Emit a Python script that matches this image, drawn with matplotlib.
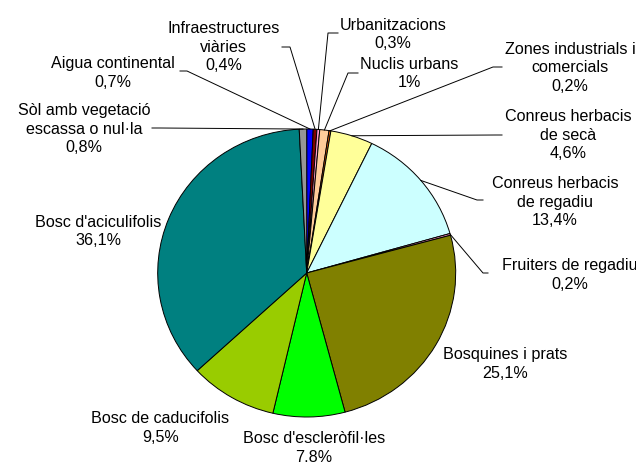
import numpy as np
import matplotlib.pyplot as plt

plt.rcParams['font.family'] = ['Liberation Sans', 'DejaVu Sans']

categories = ["Aigua continental", "Infraestructures\nviàries", "Urbanitzacions",
              "Nuclis urbans", "Zones industrials i\ncomercials", "Conreus herbacis\nde secà",
              "Conreus herbacis\nde regadiu", "Fruiters de regadiu", "Bosquines i prats",
              "Bosc d'escleròfil·les", "Bosc de caducifolis", "Bosc d'aciculifolis",
              "Sòl amb vegetació\nescassa o nul·la"]
values = [0.7, 0.4, 0.3, 1, 0.2, 4.6, 13.4, 0.2, 25.1, 7.8, 9.5, 36.1, 0.8]
colors = ['#0000FF', '#800000', '#FF99CC', '#FFCC99', '#FF6600', '#FFFF99', '#CCFFFF',
          '#FF99CC', '#808000', '#00FF00', '#99CC00', '#008080', '#969696']

# label block centres in pixels (x, y from top)
label_pos = [(113, 73), (223.5, 47), (393, 34.5), (409, 73.5), (570, 68), (568, 135),
             (555, 202), (570, 275), (505.5, 364), (314, 448), (160.5, 428), (98, 231.5),
             (84, 129)]
# leader lines: label side start and elbow, in pixels
leaders = {0: [(180, 71), (187, 71)], 1: [(282, 47), (290, 47)], 2: [(338, 33), (328, 33)],
           3: [(358, 73), (348, 73)], 4: [(502, 67), (493, 67)], 5: [(502, 135), (496, 135)],
           6: [(483, 200), (477, 200)], 7: [(488, 273), (483, 273)], 12: [(152, 128), (160, 128)]}

W, H = 636, 462
fig = plt.figure(figsize=(W / 100, H / 100), dpi=100)
cx, cy, rx, ry = 306.7, 273, 149, 144
ax_p = fig.add_axes([(cx - rx) / W, (H - cy - ry) / H, 2 * rx / W, 2 * ry / H])
wedges, _ = ax_p.pie(values, colors=colors, startangle=90, counterclock=False,
                     wedgeprops=dict(edgecolor='black', linewidth=0.7))
ax_p.set_aspect('auto')
ax_p.set_xlim(-1, 1)
ax_p.set_ylim(-1, 1)
ax_p.axis('off')

ax_o = fig.add_axes([0, 0, 1, 1], zorder=2)
ax_o.set_xlim(0, W)
ax_o.set_ylim(H, 0)
ax_o.axis('off')
ax_o.patch.set_alpha(0)


def pct(v):
    s = f"{v:.1f}".replace('.', ',')
    return (s[:-2] if s.endswith(',0') else s) + '%'


to_o = ax_p.transData + ax_o.transData.inverted()
for i, (w, lab) in enumerate(zip(wedges, categories)):
    x, y = label_pos[i]
    ax_o.text(x, y, lab + '\n' + pct(values[i]), ha='center', va='center',
              fontsize=11.6, linespacing=1.27, multialignment='center')
    if i in leaders:
        ang = np.deg2rad((w.theta1 + w.theta2) / 2)
        ex, ey = to_o.transform((np.cos(ang), np.sin(ang)))
        pts = leaders[i] + [(ex, ey)]
        ax_o.plot([p[0] for p in pts], [p[1] for p in pts], color='black', lw=0.7)

fig.savefig('out.png', dpi=100)
